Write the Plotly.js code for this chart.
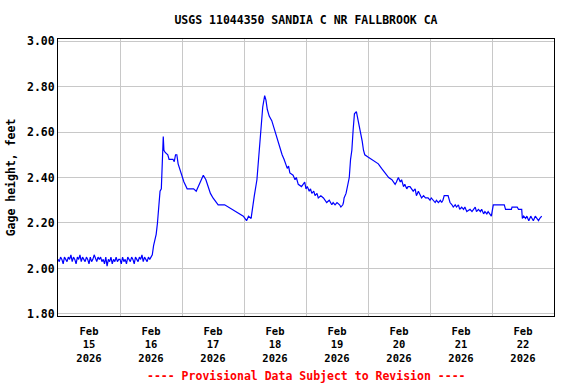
<!DOCTYPE html>
<html>
<head>
<meta charset="utf-8">
<script src="https://cdn.plot.ly/plotly-3.0.1.min.js"></script>
<style>html,body{margin:0;padding:0;background:#fff;}#chart{width:576px;height:384px;}</style>
</head>
<body>
<div id="chart"></div>
<script>
// ---- data ----
const chartTitle = "USGS 11044350 SANDIA C NR FALLBROOK CA";
const yAxisTitle = "Gage height, feet";
const footerText = "---- Provisional Data Subject to Revision ----";

const times = [
"2026-02-15 00:00","2026-02-15 00:30","2026-02-15 01:00","2026-02-15 01:30","2026-02-15 02:00","2026-02-15 02:30",
"2026-02-15 03:00","2026-02-15 03:30","2026-02-15 04:00","2026-02-15 04:30","2026-02-15 05:00","2026-02-15 05:30",
"2026-02-15 06:00","2026-02-15 06:30","2026-02-15 07:00","2026-02-15 07:30","2026-02-15 08:00","2026-02-15 08:30",
"2026-02-15 09:00","2026-02-15 09:30","2026-02-15 10:00","2026-02-15 10:30","2026-02-15 11:00","2026-02-15 11:30",
"2026-02-15 12:00","2026-02-15 12:30","2026-02-15 13:00","2026-02-15 13:30","2026-02-15 14:00","2026-02-15 14:30",
"2026-02-15 15:00","2026-02-15 15:30","2026-02-15 16:00","2026-02-15 16:30","2026-02-15 17:00","2026-02-15 17:30",
"2026-02-15 18:00","2026-02-15 18:30","2026-02-15 19:00","2026-02-15 19:30","2026-02-15 20:00","2026-02-15 20:30",
"2026-02-15 21:00","2026-02-15 21:30","2026-02-15 22:00","2026-02-15 22:30","2026-02-15 23:00","2026-02-15 23:30",
"2026-02-16 00:00","2026-02-16 00:30","2026-02-16 01:00","2026-02-16 01:30","2026-02-16 02:00","2026-02-16 02:30",
"2026-02-16 03:00","2026-02-16 03:30","2026-02-16 04:00","2026-02-16 04:30","2026-02-16 05:00","2026-02-16 05:30",
"2026-02-16 06:00","2026-02-16 06:30","2026-02-16 07:00","2026-02-16 07:30","2026-02-16 08:00","2026-02-16 08:30",
"2026-02-16 09:00","2026-02-16 09:30","2026-02-16 10:00","2026-02-16 10:30","2026-02-16 11:00","2026-02-16 11:30",
"2026-02-16 12:00","2026-02-16 12:30","2026-02-16 13:00","2026-02-16 13:45","2026-02-16 14:00","2026-02-16 14:30",
"2026-02-16 15:00","2026-02-16 15:30","2026-02-16 16:00","2026-02-16 16:15","2026-02-16 16:30","2026-02-16 16:45",
"2026-02-16 17:00","2026-02-16 17:30","2026-02-16 18:30","2026-02-16 19:00","2026-02-16 20:30","2026-02-16 21:00",
"2026-02-16 21:30","2026-02-16 22:00","2026-02-16 22:30","2026-02-16 23:15",
"2026-02-17 00:00","2026-02-17 00:45","2026-02-17 02:00","2026-02-17 03:00","2026-02-17 04:30","2026-02-17 05:30",
"2026-02-17 06:15","2026-02-17 07:15","2026-02-17 08:15","2026-02-17 09:15","2026-02-17 10:15","2026-02-17 11:00",
"2026-02-17 12:00","2026-02-17 12:45","2026-02-17 14:00","2026-02-17 16:30","2026-02-17 18:00","2026-02-17 19:30",
"2026-02-17 21:00","2026-02-17 22:30","2026-02-17 23:45",
"2026-02-18 01:00","2026-02-18 01:45","2026-02-18 02:45","2026-02-18 03:30","2026-02-18 04:00","2026-02-18 05:00",
"2026-02-18 05:45","2026-02-18 06:15","2026-02-18 06:45","2026-02-18 07:15","2026-02-18 08:00","2026-02-18 08:30",
"2026-02-18 09:00","2026-02-18 09:45","2026-02-18 10:45","2026-02-18 11:30","2026-02-18 12:30","2026-02-18 13:15",
"2026-02-18 14:00","2026-02-18 14:45","2026-02-18 15:30","2026-02-18 16:15","2026-02-18 16:45","2026-02-18 17:15",
"2026-02-18 17:45","2026-02-18 19:00","2026-02-18 19:45","2026-02-18 20:15","2026-02-18 21:00","2026-02-18 22:15",
"2026-02-18 23:00","2026-02-18 23:30",
"2026-02-19 00:00","2026-02-19 00:30","2026-02-19 01:15","2026-02-19 01:45","2026-02-19 02:15","2026-02-19 03:00",
"2026-02-19 03:30","2026-02-19 04:15","2026-02-19 04:45","2026-02-19 05:45","2026-02-19 06:45","2026-02-19 07:15",
"2026-02-19 08:00","2026-02-19 09:00","2026-02-19 10:00","2026-02-19 10:30","2026-02-19 11:15","2026-02-19 12:00",
"2026-02-19 13:00","2026-02-19 13:30","2026-02-19 14:15","2026-02-19 14:30","2026-02-19 14:45","2026-02-19 15:30",
"2026-02-19 16:00","2026-02-19 16:45","2026-02-19 17:15","2026-02-19 17:45","2026-02-19 18:15","2026-02-19 18:45",
"2026-02-19 19:30","2026-02-19 20:00","2026-02-19 20:30","2026-02-19 21:15","2026-02-19 21:45","2026-02-19 22:15",
"2026-02-19 22:45",
"2026-02-20 00:00","2026-02-20 01:30","2026-02-20 02:45","2026-02-20 04:00","2026-02-20 05:15","2026-02-20 06:30",
"2026-02-20 08:00","2026-02-20 09:15","2026-02-20 10:30","2026-02-20 11:00","2026-02-20 11:45","2026-02-20 12:30",
"2026-02-20 13:00","2026-02-20 13:45","2026-02-20 14:15","2026-02-20 15:00","2026-02-20 15:30","2026-02-20 16:15",
"2026-02-20 17:00","2026-02-20 17:30","2026-02-20 18:15","2026-02-20 18:45","2026-02-20 19:30","2026-02-20 20:00",
"2026-02-20 20:45","2026-02-20 21:30","2026-02-20 22:15","2026-02-20 23:15",
"2026-02-21 00:00","2026-02-21 00:30","2026-02-21 01:15","2026-02-21 02:00","2026-02-21 02:30","2026-02-21 03:15",
"2026-02-21 04:00","2026-02-21 04:30","2026-02-21 05:00","2026-02-21 05:30","2026-02-21 07:00","2026-02-21 07:45",
"2026-02-21 08:30","2026-02-21 09:00","2026-02-21 09:45","2026-02-21 10:15","2026-02-21 11:00","2026-02-21 11:30",
"2026-02-21 12:15","2026-02-21 13:00","2026-02-21 13:30","2026-02-21 14:15","2026-02-21 15:30","2026-02-21 16:15",
"2026-02-21 17:30","2026-02-21 18:00","2026-02-21 18:45","2026-02-21 19:30","2026-02-21 20:00","2026-02-21 20:45",
"2026-02-21 21:15","2026-02-21 22:00","2026-02-21 22:30","2026-02-21 23:15","2026-02-21 23:45",
"2026-02-22 00:30","2026-02-22 04:45","2026-02-22 05:15","2026-02-22 07:30","2026-02-22 07:45","2026-02-22 09:45",
"2026-02-22 10:15","2026-02-22 11:30","2026-02-22 11:45","2026-02-22 12:15","2026-02-22 13:00","2026-02-22 13:30",
"2026-02-22 14:15","2026-02-22 15:00","2026-02-22 15:30","2026-02-22 16:00","2026-02-22 16:45","2026-02-22 17:30",
"2026-02-22 18:00","2026-02-22 18:30","2026-02-22 19:15"
];

const gageHeight = [
2.04,2.03,2.05,2.04,2.02,2.05,
2.04,2.03,2.05,2.04,2.06,2.03,
2.05,2.04,2.02,2.05,2.04,2.06,
2.03,2.05,2.04,2.03,2.05,2.04,
2.02,2.05,2.03,2.04,2.06,2.04,
2.03,2.05,2.04,2.05,2.03,2.04,
2.02,2.05,2.01,2.04,2.03,2.05,
2.02,2.04,2.03,2.05,2.03,2.04,
2.04,2.02,2.05,2.03,2.04,2.02,
2.05,2.04,2.03,2.05,2.04,2.02,
2.05,2.04,2.03,2.05,2.04,2.06,
2.03,2.05,2.04,2.03,2.05,2.04,
2.05,2.06,2.10,2.13,2.15,2.20,
2.26,2.34,2.35,2.44,2.52,2.58,
2.52,2.51,2.50,2.48,2.48,2.47,
2.50,2.50,2.46,2.43,
2.40,2.38,2.35,2.35,2.35,2.34,
2.36,2.39,2.41,2.39,2.36,2.33,
2.31,2.30,2.28,2.28,2.27,2.26,
2.25,2.24,2.23,
2.21,2.23,2.22,2.27,2.32,2.39,
2.50,2.59,2.65,2.71,2.76,2.74,
2.70,2.67,2.65,2.62,2.59,2.56,
2.53,2.50,2.48,2.46,2.44,2.45,
2.42,2.41,2.39,2.40,2.37,2.36,
2.37,2.38,
2.35,2.36,2.34,2.35,2.33,2.34,
2.32,2.33,2.31,2.32,2.31,2.30,
2.29,2.30,2.28,2.29,2.28,2.29,
2.28,2.27,2.28,2.29,2.31,2.33,
2.36,2.40,2.48,2.52,2.61,2.68,
2.69,2.66,2.63,2.60,2.56,2.52,
2.50,
2.49,2.48,2.47,2.46,2.44,2.42,
2.40,2.39,2.37,2.38,2.40,2.38,
2.39,2.36,2.37,2.35,2.36,2.36,
2.35,2.34,2.35,2.32,2.34,2.33,
2.31,2.32,2.31,2.31,
2.30,2.31,2.30,2.29,2.30,2.29,
2.30,2.29,2.30,2.32,2.32,2.29,
2.28,2.27,2.28,2.27,2.28,2.26,
2.27,2.26,2.27,2.25,2.26,2.25,
2.27,2.25,2.26,2.25,2.26,2.24,
2.25,2.24,2.25,2.24,2.23,
2.28,2.28,2.26,2.26,2.27,2.27,
2.26,2.26,2.22,2.23,2.22,2.23,
2.21,2.23,2.22,2.21,2.23,2.22,
2.21,2.22,2.23
];

const xTickVals = ["2026-02-15 12:00","2026-02-16 12:00","2026-02-17 12:00","2026-02-18 12:00",
                   "2026-02-19 12:00","2026-02-20 12:00","2026-02-21 12:00","2026-02-22 12:00"];
const xTickText = ["Feb<br>15<br>2026","Feb<br>16<br>2026","Feb<br>17<br>2026","Feb<br>18<br>2026",
                   "Feb<br>19<br>2026","Feb<br>20<br>2026","Feb<br>21<br>2026","Feb<br>22<br>2026"];
const dayBoundaries = ["2026-02-16","2026-02-17","2026-02-18","2026-02-19","2026-02-20","2026-02-21","2026-02-22"];
const yTickVals = [1.8, 2.0, 2.2, 2.4, 2.6, 2.8, 3.0];
const xRange = ["2026-02-15 00:00","2026-02-23 00:00"];
const yRange = [1.791, 3.009];

// ---- chart ----
const fam = "'DejaVu Sans Mono', 'Liberation Mono', monospace";
const monoFont = {family: fam, size: 11.5, color: "#000", weight: "bold"};
const xTickFont = {family: fam, size: 10.5, color: "#000", weight: "bold"};

const trace = {
  x: times, y: gageHeight, type: "scatter", mode: "lines",
  line: {color: "#0000FF", width: 1.2}, hoverinfo: "x+y"
};

const layout = {
  width: 576, height: 384,
  margin: {l: 58, r: 22, t: 39, b: 68},
  paper_bgcolor: "#fff", plot_bgcolor: "#fff",
  showlegend: false,
  font: monoFont,
  title: {text: chartTitle, font: monoFont, x: 0.5, xref: "paper", xanchor: "center",
          y: 1 - 20/384, yref: "container", yanchor: "middle"},
  xaxis: {
    type: "date", range: xRange,
    tickmode: "array", tickvals: xTickVals, ticktext: xTickText,
    ticks: "", showgrid: false, zeroline: false,
    showline: true, linecolor: "#000", linewidth: 1, mirror: true,
    tickfont: xTickFont, ticklabelstandoff: 5,
    minor: {tickmode: "array", tickvals: dayBoundaries, showgrid: true, gridcolor: "#c8c8c8", gridwidth: 1, ticks: ""}
  },
  yaxis: {
    range: yRange, tickmode: "array", tickvals: yTickVals, tickformat: ".2f",
    ticks: "", showgrid: true, gridcolor: "#c8c8c8", gridwidth: 1, zeroline: false,
    showline: true, linecolor: "#000", linewidth: 1, mirror: true,
    tickfont: monoFont,
    title: {text: yAxisTitle, font: monoFont, standoff: 8}
  },
  annotations: [{
    text: footerText, xref: "paper", yref: "paper", x: 0.5, y: -(376-316)/277,
    xanchor: "center", yanchor: "middle", showarrow: false,
    font: {family: fam, size: 11.5, color: "#FF0000", weight: "bold"}
  }]
};

Plotly.newPlot("chart", [trace], layout, {staticPlot: true, displayModeBar: false});
</script>
</body>
</html>
